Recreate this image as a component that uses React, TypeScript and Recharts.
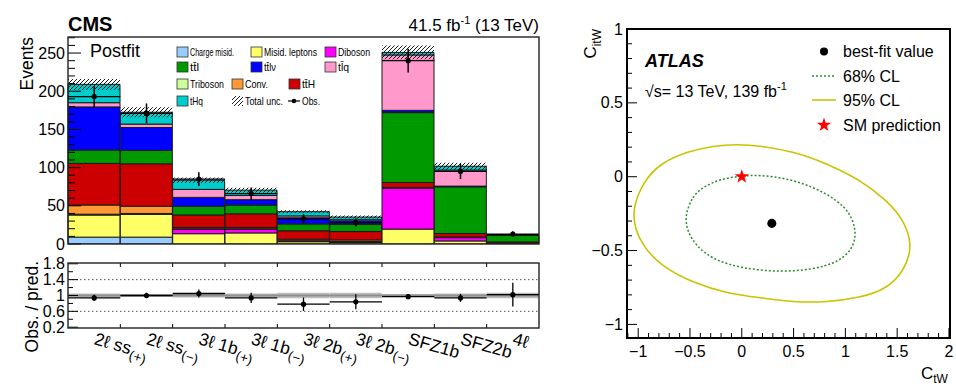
import React from "react"
import {
  ComposedChart,
  Bar,
  Line,
  Scatter,
  ErrorBar,
  XAxis,
  YAxis,
  ReferenceLine,
  Symbols,
} from "recharts"

// ---- CMS postfit yields (per category) ----
const binMain = ["2ℓ ss", "2ℓ ss", "3ℓ 1b", "3ℓ 1b", "3ℓ 2b", "3ℓ 2b", "SFZ1b", "SFZ2b", "4ℓ"]
const binSub = ["(+)", "(−)", "(+)", "(−)", "(+)", "(−)", "", "", ""]

const chargeMisid = [9, 9, 0, 0, 0, 0, 0, 0, 0]
const misidLeptons = [29, 30, 13.5, 14.5, 3, 2, 19.5, 4, 0.5]
const diboson = [0.5, 0.5, 6, 5, 1, 1, 53.5, 4.3, 0.3]
const triboson = [0.5, 0.5, 0.5, 0.5, 0.3, 0.3, 0.5, 0.5, 0.2]
const conv = [12, 9.5, 1.5, 1.5, 2, 2, 0.5, 0.5, 0.2]
const ttH = [54.5, 55.5, 16.5, 18, 11, 11, 6.5, 4.5, 1.5]
const ttll = [17.5, 17.5, 11.5, 11.5, 9, 9.5, 91.5, 61, 8.5]
const ttlv = [56.5, 30, 11.5, 7, 8, 4.5, 3, 1, 0.3]
const tllq = [5.5, 4.5, 10.5, 5.5, 2.5, 1.5, 72.5, 21, 0.2]
const tHq = [24, 15.5, 12, 7, 5.5, 3.5, 3.3, 5, 0.3]
const totalUnc = [7, 6.5, 3.5, 3, 2, 2, 9, 4.5, 1]

const observed = [193, 171, 85, 66, 33, 28, 240, 95, 13]
const observedErr = [14, 13, 9, 8, 6, 5.5, 15.5, 10, 3.6]

const ratio = [0.94, 1.0, 1.05, 0.94, 0.78, 0.84, 0.97, 0.94, 1.02]
const ratioErr = [0.08, 0.07, 0.1, 0.13, 0.17, 0.19, 0.06, 0.1, 0.3]
const ratioBand = [0.05, 0.04, 0.05, 0.05, 0.07, 0.07, 0.04, 0.05, 0.07]

const eventsTicks = [0, 10, 20, 30, 40, 50, 60, 70, 80, 90, 100, 110, 120, 130, 140, 150, 160, 170, 180, 190, 200, 210, 220, 230, 240, 250, 260, 270]
const ratioTicks = [0.2, 0.4, 0.6, 0.8, 1.0, 1.2, 1.4, 1.6, 1.8]

// ---- ATLAS 2D limits ----
const cl95 = [
  { x: -1.056, y: -0.214 }, { x: -0.95, y: -0.034 }, { x: -0.79, y: 0.09 }, { x: -0.53, y: 0.17 },
  { x: -0.27, y: 0.21 }, { x: -0.05, y: 0.22 }, { x: 0.18, y: 0.21 }, { x: 0.5, y: 0.17 },
  { x: 0.82, y: 0.09 }, { x: 1.14, y: -0.02 }, { x: 1.4, y: -0.16 }, { x: 1.56, y: -0.29 },
  { x: 1.63, y: -0.43 }, { x: 1.62, y: -0.53 }, { x: 1.56, y: -0.64 }, { x: 1.4, y: -0.76 },
  { x: 1.14, y: -0.82 }, { x: 0.82, y: -0.85 }, { x: 0.5, y: -0.85 }, { x: 0.18, y: -0.82 },
  { x: -0.14, y: -0.79 }, { x: -0.47, y: -0.72 }, { x: -0.79, y: -0.6 }, { x: -0.95, y: -0.47 },
  { x: -1.03, y: -0.36 },
]
const cl68 = [
  { x: -0.538, y: -0.248 }, { x: -0.48, y: -0.135 }, { x: -0.37, y: -0.068 }, { x: -0.21, y: -0.016 },
  { x: 0.0, y: 0.007 }, { x: 0.18, y: 0.011 }, { x: 0.43, y: -0.011 }, { x: 0.69, y: -0.068 },
  { x: 0.92, y: -0.158 }, { x: 1.05, y: -0.25 }, { x: 1.1, y: -0.36 }, { x: 1.09, y: -0.45 },
  { x: 1.01, y: -0.54 }, { x: 0.82, y: -0.61 }, { x: 0.5, y: -0.643 }, { x: 0.18, y: -0.637 },
  { x: -0.145, y: -0.598 }, { x: -0.37, y: -0.52 }, { x: -0.5, y: -0.41 }, { x: -0.54, y: -0.32 },
]
const bestFit = [{ x: 0.29, y: -0.316 }]
const smPoint = [{ x: 0, y: 0 }]
const ctwTicks = [-1.1, -1, -0.9, -0.8, -0.7, -0.6, -0.5, -0.4, -0.3, -0.2, -0.1, 0, 0.1, 0.2, 0.3, 0.4, 0.5, 0.6, 0.7, 0.8, 0.9, 1, 1.1, 1.2, 1.3, 1.4, 1.5, 1.6, 1.7, 1.8, 1.9, 2]
const citwTicks = [-1, -0.9, -0.8, -0.7, -0.6, -0.5, -0.4, -0.3, -0.2, -0.1, 0, 0.1, 0.2, 0.3, 0.4, 0.5, 0.6, 0.7, 0.8, 0.9, 1]

const processes = [
  { key: "chargeMisid", label: "Charge misid.", color: "#99ccff", values: chargeMisid },
  { key: "misidLeptons", label: "Misid. leptons", color: "#ffff66", values: misidLeptons },
  { key: "diboson", label: "Diboson", color: "#ff00ff", values: diboson },
  { key: "triboson", label: "Triboson", color: "#ccff99", values: triboson },
  { key: "conv", label: "Conv.", color: "#ff9933", values: conv },
  { key: "ttH", label: "tt̄H", color: "#cc0000", values: ttH },
  { key: "ttll", label: "tt̄l", color: "#009900", values: ttll },
  { key: "ttlv", label: "tt̄lν", color: "#0000ff", values: ttlv },
  { key: "tllq", label: "tl̄q", color: "#ff99cc", values: tllq },
  { key: "tHq", label: "tHq", color: "#00cccc", values: tHq },
]

const cmsData = binMain.map((_, i) => {
  const row: any = { bin: i }
  let total = 0
  processes.forEach((p) => {
    row[p.key] = p.values[i]
    total += p.values[i]
  })
  row.unc = [total - totalUnc[i], total + totalUnc[i]]
  row.obs = observed[i]
  row.obsErr = observedErr[i]
  return row
})

const ratioData = binMain.map((_, i) => ({
  bin: i,
  band: [1 - ratioBand[i], 1 + ratioBand[i]],
  ratio: ratio[i],
  ratioErr: ratioErr[i],
}))

// layout of the CMS panels (page px)
const CMS_L = 68
const CMS_R = 539
const BW = (CMS_R - CMS_L) / 9
const FONT = "'Liberation Sans', Arial, Helvetica, sans-serif"

const obsDot = (p: any) => {
  if (p.cx == null || p.cy == null) return <g key={p.index} />
  return (
    <g key={p.index}>
      <line x1={p.cx - BW / 2} x2={p.cx + BW / 2} y1={p.cy} y2={p.cy} stroke="#000" strokeWidth={1.3} />
      <circle cx={p.cx} cy={p.cy} r={2.6} fill="#000" />
    </g>
  )
}

const EventsTick = (props: any) => {
  const { x, y, payload } = props
  const v = payload.value
  const major = v % 50 === 0
  const ax = x + 5
  return (
    <g>
      <line x1={ax} x2={ax + (major ? 13 : 7)} y1={y} y2={y} stroke="#000" strokeWidth={1} />
      {major && (
        <text x={ax - 3} y={y} dy="0.35em" textAnchor="end" fontSize={16} fontFamily={FONT} fill="#000">
          {v}
        </text>
      )}
    </g>
  )
}

const RatioYTick = (props: any) => {
  const { x, y, payload } = props
  const v = payload.value
  const major = Math.round(v * 10) % 4 === 2
  const ax = x + 5
  return (
    <g>
      <line x1={ax} x2={ax + (major ? 10 : 5)} y1={y} y2={y} stroke="#000" strokeWidth={1} />
      {major && (
        <text x={ax - 3} y={y} dy="0.35em" textAnchor="end" fontSize={16} fontFamily={FONT} fill="#000">
          {Number(v.toFixed(1))}
        </text>
      )}
    </g>
  )
}

const RatioXTick = (props: any) => {
  const { x, y, payload } = props
  const i = payload.value
  const edge = x - BW / 2
  return (
    <g>
      {i > 0 && <line x1={edge} x2={edge} y1={y} y2={y - 4} stroke="#000" />}
      {i > 0 && <line x1={edge} x2={edge} y1={y - 65} y2={y - 61} stroke="#000" />}
      <text
        x={x - 1}
        y={y + 16}
        transform={`rotate(16 ${x - 1} ${y + 16})`}
        fontSize={17.5}
        fontFamily={FONT}
        fill="#000"
      >
        {binMain[i]}
        {binSub[i] && (
          <tspan fontSize={13.5} dy={5}>
            {binSub[i]}
          </tspan>
        )}
      </text>
    </g>
  )
}

const fmtAtlas = (v: number) => String(Number(v.toFixed(2))).replace("-", "−")
const isHalf = (v: number) => Math.abs(Math.round(v * 10)) % 5 === 0

const CtwTick = (props: any) => {
  const { x, y, payload } = props
  const v = payload.value
  const major = isHalf(v)
  return (
    <g>
      <line x1={x} x2={x} y1={y} y2={y - (major ? 10 : 5)} stroke="#000" />
      {major && (
        <text x={x} y={y + 19} textAnchor="middle" fontSize={16} fontFamily={FONT} fill="#000">
          {fmtAtlas(v)}
        </text>
      )}
    </g>
  )
}
const CtwTopTick = (props: any) => {
  const { x, y, payload } = props
  const major = isHalf(payload.value)
  return <line x1={x} x2={x} y1={y} y2={y + (major ? 10 : 5)} stroke="#000" />
}
const CitwTick = (props: any) => {
  const { x, y, payload } = props
  const v = payload.value
  const major = isHalf(v)
  return (
    <g>
      <line x1={x} x2={x + (major ? 10 : 5)} y1={y} y2={y} stroke="#000" />
      {major && (
        <text x={x - 4} y={y} dy="0.35em" textAnchor="end" fontSize={16} fontFamily={FONT} fill="#000">
          {fmtAtlas(v)}
        </text>
      )}
    </g>
  )
}
const CitwRightTick = (props: any) => {
  const { x, y, payload } = props
  const major = isHalf(payload.value)
  return <line x1={x} x2={x - (major ? 10 : 5)} y1={y} y2={y} stroke="#000" />
}

// legend slots: position and text width of each entry
const legendRows = [
  { x: 177, y: 52, i: 0, w: 44 },
  { x: 251, y: 52, i: 1, w: 53 },
  { x: 325, y: 52, i: 2, w: 32 },
  { x: 177, y: 67, i: 6, w: 9 },
  { x: 251, y: 67, i: 7, w: 12 },
  { x: 325, y: 67, i: 8, w: 11 },
  { x: 177, y: 84, i: 3, w: 34 },
  { x: 232, y: 84, i: 4, w: 23 },
  { x: 289, y: 84, i: 5, w: 13 },
  { x: 177, y: 101, i: 9, w: 13 },
]

export default function App() {
  return (
    <div style={{ position: "absolute", left: 0, top: 0, width: 956, height: 387, background: "#fff", fontFamily: FONT }}>
      <svg width={0} height={0} style={{ position: "absolute" }}>
        <defs>
          <pattern id="hatch" patternUnits="userSpaceOnUse" width={4} height={4}>
            <path d="M-1,1 l2,-2 M0,4 l4,-4 M3,5 l2,-2" stroke="#000" strokeWidth={0.9} />
          </pattern>
        </defs>
      </svg>

      {/* CMS main panel */}
      <div style={{ position: "absolute", left: 0, top: 0 }}>
        <ComposedChart
          width={560}
          height={256}
          data={cmsData}
          margin={{ top: 37, right: 21, bottom: 12, left: 0 }}
          barCategoryGap={0}
          barGap={0}
        >
          <XAxis dataKey="bin" xAxisId="main" hide />
          <XAxis dataKey="bin" xAxisId="unc" hide />
          <YAxis
            domain={[0, 271]}
            ticks={eventsTicks}
            interval={0}
            width={68}
            tickSize={0}
            tickMargin={5}
            axisLine={false}
            tick={EventsTick}
            allowDataOverflow
          />
          {processes.map((p) => (
            <Bar
              key={p.key}
              xAxisId="main"
              dataKey={p.key}
              stackId="mc"
              fill={p.color}
              stroke="#1a1a1a"
              strokeWidth={1}
              isAnimationActive={false}
            />
          ))}
          <Bar xAxisId="unc" dataKey="unc" fill="url(#hatch)" isAnimationActive={false} />
          <Line
            xAxisId="main"
            dataKey="obs"
            stroke="none"
            dot={obsDot}
            activeDot={false}
            isAnimationActive={false}
          >
            <ErrorBar dataKey="obsErr" width={0} stroke="#000" strokeWidth={1.5} direction="y" />
          </Line>
        </ComposedChart>
      </div>

      {/* CMS ratio panel */}
      <div style={{ position: "absolute", left: 0, top: 250 }}>
        <ComposedChart
          width={560}
          height={137}
          data={ratioData}
          margin={{ top: 13, right: 21, bottom: 0, left: 0 }}
          barCategoryGap={0}
        >
          <XAxis dataKey="bin" height={59} tickSize={0} tickMargin={0} axisLine={false} interval={0} tick={RatioXTick} />
          <YAxis
            domain={[0.18, 1.82]}
            ticks={ratioTicks}
            interval={0}
            width={68}
            tickSize={0}
            tickMargin={5}
            axisLine={false}
            tick={RatioYTick}
            allowDataOverflow
          />
          <ReferenceLine y={1.4} stroke="#555" strokeDasharray="1.5 2.5" />
          <ReferenceLine y={0.6} stroke="#555" strokeDasharray="1.5 2.5" />
          <Bar dataKey="band" fill="#bdbdbd" isAnimationActive={false} />
          <ReferenceLine y={1} stroke="#8f8f8f" strokeWidth={2} />
          <Line dataKey="ratio" stroke="none" dot={obsDot} activeDot={false} isAnimationActive={false}>
            <ErrorBar dataKey="ratioErr" width={0} stroke="#000" strokeWidth={1.3} direction="y" />
          </Line>
        </ComposedChart>
      </div>

      {/* ATLAS panel */}
      <div style={{ position: "absolute", left: 560, top: 0 }}>
        <ComposedChart width={396} height={387} margin={{ top: 29, right: 6, bottom: 19, left: 17 }}>
          <XAxis
            type="number"
            dataKey="x"
            domain={[-1.108, 2.01]}
            ticks={ctwTicks}
            interval={0}
            height={30}
            tickSize={0}
            tickMargin={0}
            axisLine={false}
            tick={CtwTick}
            allowDataOverflow
          />
          <XAxis
            xAxisId="top"
            orientation="top"
            type="number"
            dataKey="x"
            domain={[-1.108, 2.01]}
            ticks={ctwTicks}
            interval={0}
            height={0}
            tickSize={0}
            tickMargin={0}
            axisLine={false}
            tick={CtwTopTick}
            allowDataOverflow
          />
          <YAxis
            type="number"
            dataKey="y"
            domain={[-1.092, 1.0]}
            ticks={citwTicks}
            interval={0}
            width={50}
            tickSize={0}
            tickMargin={0}
            axisLine={false}
            tick={CitwTick}
            allowDataOverflow
          />
          <YAxis
            yAxisId="right"
            orientation="right"
            type="number"
            dataKey="y"
            domain={[-1.092, 1.0]}
            ticks={citwTicks}
            interval={0}
            width={0}
            tickSize={0}
            tickMargin={0}
            axisLine={false}
            tick={CitwRightTick}
            allowDataOverflow
          />
          <Line
            data={cl95}
            dataKey="y"
            type="basisClosed"
            stroke="#c9c400"
            strokeWidth={1.6}
            dot={false}
            activeDot={false}
            isAnimationActive={false}
          />
          <Line
            data={cl68}
            dataKey="y"
            type="basisClosed"
            stroke="#2e8b2e"
            strokeWidth={1.5}
            strokeDasharray="2 2"
            dot={false}
            activeDot={false}
            isAnimationActive={false}
          />
          <Scatter data={bestFit} fill="#000" shape="circle" isAnimationActive={false} />
          <Scatter data={smPoint} fill="#ff0000" shape="star" isAnimationActive={false} />
        </ComposedChart>
      </div>

      {/* frames, titles and legends */}
      <svg
        width={956}
        height={387}
        style={{ position: "absolute", left: 0, top: 0, pointerEvents: "none" }}
        fontFamily={FONT}
      >
        <rect x={CMS_L} y={37} width={CMS_R - CMS_L} height={207} fill="none" stroke="#222" strokeWidth={1.4} />
        <rect x={CMS_L} y={263} width={CMS_R - CMS_L} height={65} fill="none" stroke="#222" strokeWidth={1.4} />
        <rect x={627} y={29} width={323} height={309} fill="none" stroke="#000" strokeWidth={2} />

        <text x={68} y={31} fontSize={20} fontWeight="bold">CMS</text>
        <text x={539} y={31} fontSize={17} textAnchor="end">
          41.5 fb<tspan fontSize={11} dy={-7}>-1</tspan>
          <tspan dy={7}> (13 TeV)</tspan>
        </text>
        <text x={90} y={57} fontSize={18}>Postfit</text>
        <text x={33} y={37} fontSize={17.5} textAnchor="end" transform="rotate(-90 33 37)">Events</text>
        <text x={38} y={261} fontSize={17.5} textAnchor="end" transform="rotate(-90 38 261)">Obs. / pred.</text>

        {legendRows.map((r) => {
          const p = processes[r.i]
          return (
            <g key={p.key}>
              <rect x={r.x} y={r.y - 5} width={11} height={10} fill={p.color} stroke="#333" strokeWidth={0.8} />
              <text x={r.x + 13} y={r.y + 4} fontSize={11} textLength={r.w} lengthAdjust="spacingAndGlyphs">
                {p.label}
              </text>
            </g>
          )
        })}
        <rect x={232} y={96} width={11} height={10} fill="url(#hatch)" />
        <text x={245} y={105} fontSize={11} textLength={38} lengthAdjust="spacingAndGlyphs">Total unc.</text>
        <line x1={288} x2={300} y1={101} y2={101} stroke="#000" strokeWidth={1.2} />
        <circle cx={294} cy={101} r={2.3} fill="#000" />
        <text x={302} y={105} fontSize={11} textLength={18} lengthAdjust="spacingAndGlyphs">Obs.</text>

        <text x={645} y={67} fontSize={18} fontWeight="bold" fontStyle="italic">ATLAS</text>
        <text x={645} y={97} fontSize={16}>
          √s= 13 TeV, 139 fb<tspan fontSize={11} dy={-7}>-1</tspan>
        </text>
        <circle cx={824} cy={51.5} r={4} fill="#000" />
        <text x={843} y={57} fontSize={16}>best-fit value</text>
        <line x1={812} x2={836} y1={76} y2={76} stroke="#2e8b2e" strokeWidth={1.5} strokeDasharray="2 2" />
        <text x={843} y={81.5} fontSize={16}>68% CL</text>
        <line x1={812} x2={836} y1={100} y2={100} stroke="#c9c400" strokeWidth={1.6} />
        <text x={843} y={106} fontSize={16}>95% CL</text>
        <Symbols cx={824} cy={125} type="star" size={64} fill="#ff0000" />
        <text x={843} y={130.5} fontSize={16}>SM prediction</text>

        <text x={921} y={379} fontSize={17}>
          C<tspan fontSize={12} dy={4}>tW</tspan>
        </text>
        <text x={596} y={29} fontSize={17} textAnchor="end" transform="rotate(-90 596 29)">
          C<tspan fontSize={12} dy={5}>itW</tspan>
        </text>
      </svg>
    </div>
  )
}
